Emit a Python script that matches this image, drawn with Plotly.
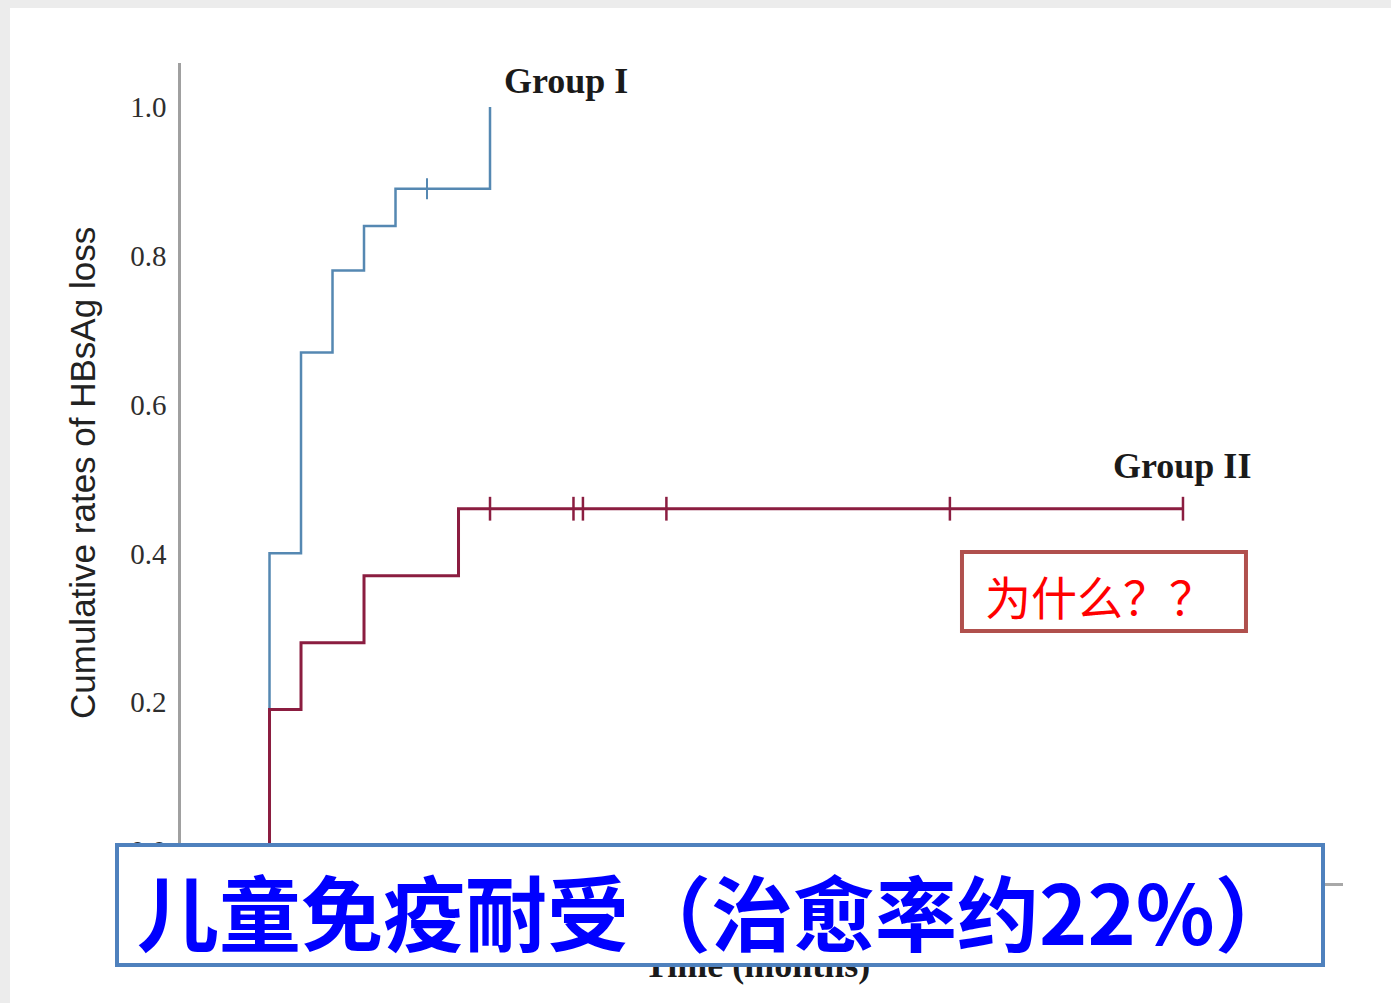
import plotly.graph_objects as go

# Cumulative incidence of HBsAg loss (step curves), time in months
g1_time = [0, 2, 4, 6, 8, 10, 16]
g1_rate = [0.0, 0.40, 0.67, 0.78, 0.84, 0.89, 1.00]
g1_cens_time = [12]
g1_cens_rate = [0.89]

g2_time = [0, 2, 4, 8, 14, 60]
g2_rate = [0.0, 0.19, 0.28, 0.37, 0.46, 0.46]
g2_cens_time = [16, 21.3, 21.9, 27.2, 45.2, 60]
g2_cens_rate = [0.46, 0.46, 0.46, 0.46, 0.46, 0.46]

y_ticks = [0.0, 0.2, 0.4, 0.6, 0.8, 1.0]
y_tick_text = ["0.0", "0.2", "0.4", "0.6", "0.8", "1.0"]

BLUE = "#5588b2"
RED = "#8b1d40"
SERIF = "Liberation Serif"
CJK = "Noto Sans CJK SC"

fig = go.Figure()

fig.add_trace(go.Scatter(x=g1_time, y=g1_rate, mode="lines", line_shape="hv",
                         line=dict(color=BLUE, width=2.5), showlegend=False))
fig.add_trace(go.Scatter(x=g1_cens_time, y=g1_cens_rate, mode="markers",
                         marker=dict(symbol="line-ns", size=15,
                                     line=dict(color=BLUE, width=2)),
                         showlegend=False))
fig.add_trace(go.Scatter(x=g2_time, y=g2_rate, mode="lines", line_shape="hv",
                         line=dict(color=RED, width=3), showlegend=False))
fig.add_trace(go.Scatter(x=g2_cens_time, y=g2_cens_rate, mode="markers",
                         marker=dict(symbol="line-ns", size=17,
                                     line=dict(color=RED, width=2.5)),
                         showlegend=False))

fig.update_layout(
    width=1391, height=1003,
    margin=dict(l=181, r=48, t=63, b=120),
    paper_bgcolor="#ececec",
    plot_bgcolor="white",
    xaxis=dict(range=[-3.62, 70.16], showline=True, linecolor="#a8a8a8",
               linewidth=2.5, showgrid=False, zeroline=False,
               showticklabels=False, ticks=""),
    yaxis=dict(range=[-0.043, 1.059], showline=True, linecolor="#a0a0a0",
               linewidth=2.5, showgrid=False, zeroline=False, ticks="",
               tickvals=y_ticks, ticktext=y_tick_text,
               tickfont=dict(family=SERIF, size=29, color="#2e2e2e"),
               ticklabelstandoff=6),
    shapes=[
        # white page over the grey screen edge
        dict(type="rect", xref="paper", yref="paper", layer="below",
             x0=-0.1472, x1=1.05, y0=-0.16, y1=1.067,
             fillcolor="white", line=dict(width=0)),
        # callout box
        dict(type="rect", xref="paper", yref="paper", layer="above",
             x0=0.6721, x1=0.9165, y0=0.3073, y1=0.4037,
             fillcolor="white", line=dict(color="#b0504d", width=4)),
    ],
    annotations=[
        dict(text="Cumulative rates of HBsAg loss", xref="paper", yref="paper",
             x=-0.0852, y=0.5, textangle=-90, showarrow=False,
             xanchor="center", yanchor="middle",
             font=dict(family="Liberation Sans", size=35, color="#222222")),
        dict(text="<b>Group I</b>", xref="paper", yref="paper",
             x=0.2762, y=0.9780, showarrow=False, xanchor="left", yanchor="middle",
             font=dict(family=SERIF, size=36, color="#1a1a1a")),
        dict(text="<b>Group II</b>", xref="paper", yref="paper",
             x=0.8003, y=0.5085, showarrow=False, xanchor="left", yanchor="middle",
             font=dict(family=SERIF, size=36, color="#1a1a1a")),
        dict(text="<b>Time (months)</b>", xref="paper", yref="paper",
             x=0.4957, y=-0.1000, showarrow=False, xanchor="center", yanchor="middle",
             font=dict(family=SERIF, size=36, color="#1a1a1a")),
        # caption frame, laid over the x-axis title
        dict(text=" ", xref="paper", yref="paper",
             x=-0.0568, y=0.0488, showarrow=False, xanchor="left", yanchor="top",
             width=1202, height=116, bgcolor="white",
             bordercolor="#4f81bd", borderwidth=4, borderpad=0,
             font=dict(size=10)),
        dict(text="<b>儿童免疫耐受（治愈率约22%）</b>", xref="paper", yref="paper",
             x=-0.0396, y=-0.0329, showarrow=False, xanchor="left", yanchor="middle",
             font=dict(family=CJK, size=82, color="#0000ff")),
        dict(text="为什么？？", xref="paper", yref="paper",
             x=0.7909, y=0.3512, showarrow=False, xanchor="center", yanchor="middle",
             font=dict(family=CJK, size=46, color="#ff0000")),
    ],
)

fig.write_html("out.html")
